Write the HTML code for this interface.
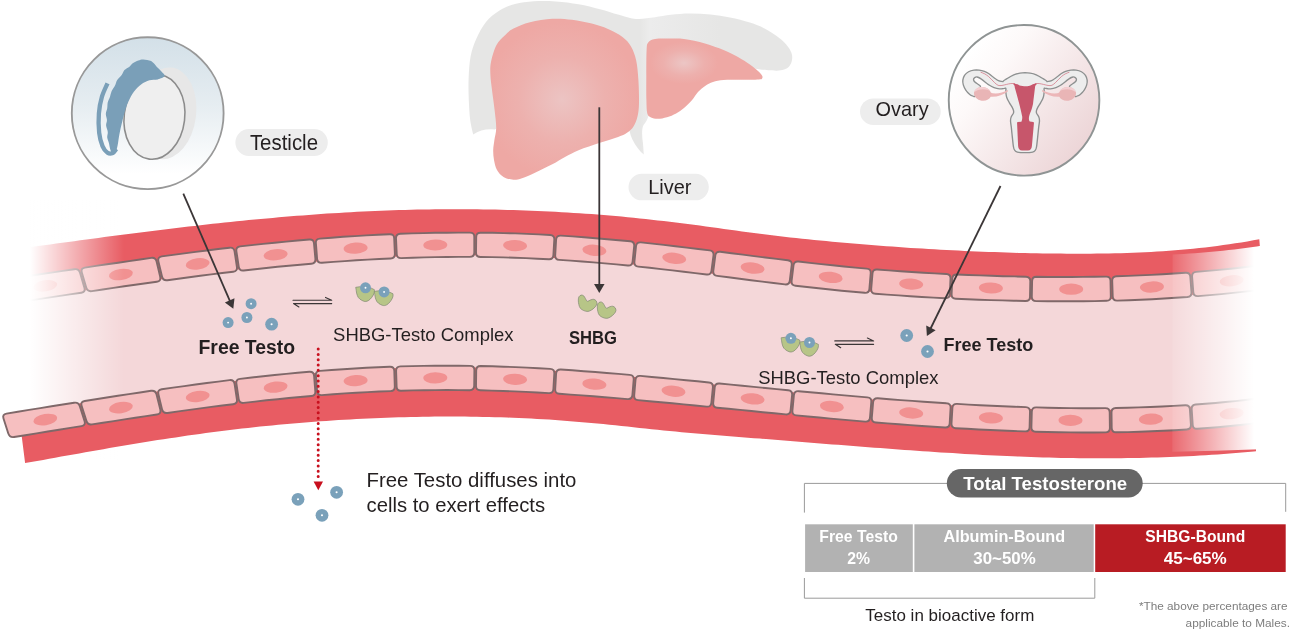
<!DOCTYPE html>
<html lang="en"><head><meta charset="utf-8"><title>Testosterone transport</title>
<style>html,body{margin:0;padding:0;background:#fff}body{width:1290px;height:630px;overflow:hidden}svg{display:block;will-change:transform}text{font-family:"Liberation Sans",sans-serif}</style></head>
<body>
<svg width="1290" height="630" viewBox="0 0 1290 630">
<defs>
<linearGradient id="fadeL" gradientUnits="userSpaceOnUse" x1="30" y1="0" x2="124" y2="0">
<stop offset="0" stop-color="#fff" stop-opacity="1"/><stop offset="1" stop-color="#fff" stop-opacity="0"/></linearGradient>
<linearGradient id="fadeR" gradientUnits="userSpaceOnUse" x1="1172.3" y1="0" x2="1254" y2="0">
<stop offset="0" stop-color="#fff" stop-opacity="0.08"/><stop offset="1" stop-color="#fff" stop-opacity="1"/></linearGradient>
</defs>
<defs>
<linearGradient id="gT" x1="0" y1="0" x2="0" y2="1"><stop offset="0" stop-color="#d3e0e8"/><stop offset="0.45" stop-color="#e6edf1"/><stop offset="0.9" stop-color="#ffffff"/></linearGradient>
<linearGradient id="gO" x1="0.12" y1="0.2" x2="0.92" y2="0.82"><stop offset="0" stop-color="#ffffff"/><stop offset="0.22" stop-color="#fdf9f9"/><stop offset="1" stop-color="#ecd4d6"/></linearGradient>
<radialGradient id="gL1" gradientUnits="userSpaceOnUse" cx="562" cy="100" r="78"><stop offset="0" stop-color="#ecc4c3"/><stop offset="0.55" stop-color="#edb1ae"/><stop offset="1" stop-color="#eea8a4"/></radialGradient>
<radialGradient id="gL2" gradientUnits="userSpaceOnUse" cx="684" cy="63" r="34" gradientTransform="translate(684 63) scale(1 0.62) translate(-684 -63)"><stop offset="0" stop-color="#ecc6c5"/><stop offset="0.6" stop-color="#edb0ad"/><stop offset="1" stop-color="#eea8a4"/></radialGradient>
<linearGradient id="gLg" gradientUnits="userSpaceOnUse" x1="640" y1="0" x2="720" y2="0"><stop offset="0" stop-color="#e6e6e5"/><stop offset="0.12" stop-color="#ececec"/><stop offset="1" stop-color="#e6e6e5"/></linearGradient>
<g id="dot"><circle r="5.5" fill="#7aa1ba"/><circle r="0.95" fill="#fff"/></g>
<g id="dotL"><circle r="6.4" fill="#7aa1ba"/><circle r="1.05" fill="#fff"/></g>
<path id="shbg" d="M2.94 0 C3.7 -0.15 4.63 0.16 5.32 0.71 C6.01 1.27 6.44 2.42 7.06 3.33 C7.69 4.25 8.15 5.95 9.05 6.19 C9.95 6.43 11.4 5.09 12.46 4.76 C13.52 4.43 14.51 4.05 15.4 4.21 C16.28 4.37 17.24 5 17.78 5.71 C18.32 6.43 18.77 7.51 18.65 8.49 C18.53 9.47 17.91 10.56 17.06 11.59 C16.22 12.62 14.81 13.89 13.57 14.68 C12.33 15.48 10.95 16.22 9.6 16.35 C8.25 16.48 6.73 16.01 5.48 15.48 C4.22 14.95 2.88 14.17 2.06 13.17 C1.24 12.18 0.9 10.9 0.56 9.52 C0.21 8.15 -0.03 6.24 0 4.92 C0.03 3.6 0.22 2.41 0.71 1.59 C1.2 0.77 2.17 0.15 2.94 0Z" fill="#b7c587" stroke="#7f8872" stroke-width="0.7" stroke-linejoin="round"/>
<path id="cup" d="M-9.8 -0.5 L-5.4 -1.1 L0 3 L5.8 0.4 L8.9 1.9 C8.9 2.28 9 3.48 8.9 4.2 C8.8 4.92 8.58 5.53 8.3 6.2 C8.02 6.87 7.58 7.58 7.2 8.2 C6.82 8.82 6.47 9.33 6 9.9 C5.53 10.47 4.95 11.1 4.4 11.6 C3.85 12.1 3.38 12.55 2.7 12.9 C2.02 13.25 1.05 13.62 0.3 13.7 C-0.45 13.78 -1.12 13.6 -1.8 13.4 C-2.48 13.2 -3.17 12.85 -3.8 12.5 C-4.43 12.15 -5.05 11.75 -5.6 11.3 C-6.15 10.85 -6.67 10.42 -7.1 9.8 C-7.53 9.18 -7.9 8.37 -8.2 7.6 C-8.5 6.83 -8.72 6.03 -8.9 5.2 C-9.08 4.37 -9.15 3.55 -9.3 2.6 C-9.45 1.65 -9.72 0.02 -9.8 -0.5Z" fill="#b7c587" stroke="#7f8872" stroke-width="0.7" stroke-linejoin="round"/>
</defs>
<path d="M-10 294 L-4 293.1 L2 292.2 L8.1 291.3 L14.1 290.4 L20.1 289.6 L26.1 288.7 L32.1 287.8 L38.1 286.9 L44.2 286 L50.2 285.1 L56.2 284.2 L62.2 283.3 L68.2 282.4 L74.3 281.5 L80.3 280.6 L86.3 279.7 L92.3 278.8 L98.3 277.9 L104.4 277 L110.4 276.1 L116.4 275.2 L122.4 274.3 L128.4 273.5 L134.4 272.6 L140.5 271.7 L146.5 270.9 L152.5 270 L158.5 269.2 L164.5 268.3 L170.6 267.5 L176.6 266.7 L182.6 265.9 L188.6 265.1 L194.6 264.3 L200.6 263.5 L206.7 262.7 L212.7 262 L218.7 261.2 L224.7 260.5 L230.7 259.8 L236.8 259.1 L242.8 258.4 L248.8 257.7 L254.8 257 L260.8 256.4 L266.9 255.7 L272.9 255.1 L278.9 254.5 L284.9 253.9 L290.9 253.3 L296.9 252.8 L303 252.2 L309 251.7 L315 251.2 L321 250.7 L327 250.2 L333.1 249.7 L339.1 249.3 L345.1 248.9 L351.1 248.5 L357.1 248.1 L363.1 247.7 L369.2 247.4 L375.2 247.1 L381.2 246.8 L387.2 246.5 L393.2 246.2 L399.3 246 L405.3 245.8 L411.3 245.6 L417.3 245.4 L423.3 245.2 L429.4 245.1 L435.4 245 L441.4 244.9 L447.4 244.8 L453.4 244.8 L459.4 244.7 L465.5 244.7 L471.5 244.7 L477.5 244.8 L483.5 244.8 L489.5 244.9 L495.6 245 L501.6 245.2 L507.6 245.3 L513.6 245.5 L519.6 245.7 L525.6 246 L531.7 246.2 L537.7 246.5 L543.7 246.8 L549.7 247.1 L555.7 247.5 L561.8 247.9 L567.8 248.3 L573.8 248.7 L579.8 249.1 L585.8 249.6 L591.9 250.1 L597.9 250.6 L603.9 251.1 L609.9 251.6 L615.9 252.2 L621.9 252.7 L628 253.3 L634 253.9 L640 254.6 L646 255.2 L652 255.8 L658.1 256.5 L664.1 257.2 L670.1 257.9 L676.1 258.6 L682.1 259.3 L688.1 260 L694.2 260.7 L700.2 261.5 L706.2 262.2 L712.2 263 L718.2 263.8 L724.3 264.5 L730.3 265.3 L736.3 266.1 L742.3 266.8 L748.3 267.6 L754.4 268.4 L760.4 269.1 L766.4 269.9 L772.4 270.6 L778.4 271.4 L784.4 272.1 L790.5 272.8 L796.5 273.6 L802.5 274.3 L808.5 275 L814.5 275.6 L820.6 276.3 L826.6 276.9 L832.6 277.6 L838.6 278.2 L844.6 278.8 L850.6 279.3 L856.7 279.9 L862.7 280.4 L868.7 280.9 L874.7 281.4 L880.7 281.9 L886.8 282.4 L892.8 282.8 L898.8 283.3 L904.8 283.7 L910.8 284.1 L916.9 284.5 L922.9 284.8 L928.9 285.2 L934.9 285.5 L940.9 285.9 L946.9 286.2 L953 286.5 L959 286.7 L965 287 L971 287.2 L977 287.5 L983.1 287.7 L989.1 287.9 L995.1 288.1 L1001.1 288.3 L1007.1 288.4 L1013.1 288.6 L1019.2 288.7 L1025.2 288.8 L1031.2 288.9 L1037.2 289 L1043.2 289.1 L1049.3 289.1 L1055.3 289.2 L1061.3 289.2 L1067.3 289.2 L1073.3 289.2 L1079.4 289.1 L1085.4 289.1 L1091.4 289 L1097.4 288.9 L1103.4 288.8 L1109.4 288.6 L1115.5 288.5 L1121.5 288.3 L1127.5 288.1 L1133.5 287.8 L1139.5 287.6 L1145.6 287.3 L1151.6 287 L1157.6 286.7 L1163.6 286.4 L1169.6 286 L1175.6 285.6 L1181.7 285.2 L1187.7 284.8 L1193.7 284.3 L1199.7 283.8 L1205.7 283.3 L1211.8 282.8 L1217.8 282.2 L1223.8 281.6 L1229.8 281 L1235.8 280.4 L1241.9 279.7 L1247.9 279.1 L1253.9 278.4 L1259.9 277.6 L1265.9 276.9 L1271.9 276.1 L1278 275.3 L1284 274.5 L1290 273.6 L1290 406.3 L1284 407.2 L1278 408.1 L1271.9 408.9 L1265.9 409.7 L1259.9 410.5 L1253.9 411.2 L1247.9 411.9 L1241.9 412.6 L1235.8 413.2 L1229.8 413.8 L1223.8 414.4 L1217.8 415 L1211.8 415.5 L1205.7 416 L1199.7 416.4 L1193.7 416.9 L1187.7 417.3 L1181.7 417.7 L1175.6 418 L1169.6 418.3 L1163.6 418.6 L1157.6 418.9 L1151.6 419.2 L1145.6 419.4 L1139.5 419.6 L1133.5 419.8 L1127.5 419.9 L1121.5 420 L1115.5 420.1 L1109.4 420.2 L1103.4 420.3 L1097.4 420.3 L1091.4 420.3 L1085.4 420.3 L1079.4 420.3 L1073.3 420.3 L1067.3 420.2 L1061.3 420.1 L1055.3 420 L1049.3 419.9 L1043.2 419.8 L1037.2 419.6 L1031.2 419.5 L1025.2 419.3 L1019.2 419.1 L1013.1 418.8 L1007.1 418.6 L1001.1 418.4 L995.1 418.1 L989.1 417.8 L983.1 417.5 L977 417.2 L971 416.9 L965 416.5 L959 416.2 L953 415.8 L946.9 415.5 L940.9 415.1 L934.9 414.7 L928.9 414.3 L922.9 413.9 L916.9 413.4 L910.8 413 L904.8 412.5 L898.8 412.1 L892.8 411.6 L886.8 411.2 L880.7 410.7 L874.7 410.2 L868.7 409.7 L862.7 409.2 L856.7 408.7 L850.6 408.1 L844.6 407.6 L838.6 407.1 L832.6 406.5 L826.6 406 L820.6 405.4 L814.5 404.9 L808.5 404.3 L802.5 403.8 L796.5 403.2 L790.5 402.6 L784.4 402 L778.4 401.5 L772.4 400.9 L766.4 400.3 L760.4 399.7 L754.4 399.1 L748.3 398.5 L742.3 397.9 L736.3 397.3 L730.3 396.8 L724.3 396.2 L718.2 395.6 L712.2 395 L706.2 394.4 L700.2 393.8 L694.2 393.2 L688.1 392.6 L682.1 392.1 L676.1 391.5 L670.1 390.9 L664.1 390.3 L658.1 389.7 L652 389.2 L646 388.6 L640 388.1 L634 387.5 L628 387 L621.9 386.5 L615.9 385.9 L609.9 385.4 L603.9 384.9 L597.9 384.4 L591.9 384 L585.8 383.5 L579.8 383 L573.8 382.6 L567.8 382.2 L561.8 381.8 L555.7 381.4 L549.7 381 L543.7 380.7 L537.7 380.3 L531.7 380 L525.6 379.7 L519.6 379.4 L513.6 379.2 L507.6 379 L501.6 378.8 L495.6 378.6 L489.5 378.4 L483.5 378.3 L477.5 378.1 L471.5 378 L465.5 378 L459.4 377.9 L453.4 377.9 L447.4 377.9 L441.4 377.9 L435.4 377.9 L429.4 378 L423.3 378.1 L417.3 378.2 L411.3 378.3 L405.3 378.5 L399.3 378.6 L393.2 378.8 L387.2 379.1 L381.2 379.3 L375.2 379.6 L369.2 379.9 L363.1 380.2 L357.1 380.5 L351.1 380.9 L345.1 381.2 L339.1 381.6 L333.1 382.1 L327 382.5 L321 383 L315 383.5 L309 384 L303 384.5 L296.9 385.1 L290.9 385.6 L284.9 386.2 L278.9 386.8 L272.9 387.4 L266.9 388.1 L260.8 388.7 L254.8 389.4 L248.8 390.1 L242.8 390.8 L236.8 391.5 L230.7 392.2 L224.7 393 L218.7 393.7 L212.7 394.5 L206.7 395.3 L200.6 396.1 L194.6 396.9 L188.6 397.7 L182.6 398.6 L176.6 399.4 L170.6 400.3 L164.5 401.1 L158.5 402 L152.5 402.9 L146.5 403.8 L140.5 404.7 L134.4 405.6 L128.4 406.5 L122.4 407.4 L116.4 408.3 L110.4 409.3 L104.4 410.2 L98.3 411.2 L92.3 412.1 L86.3 413.1 L80.3 414 L74.3 415 L68.2 415.9 L62.2 416.9 L56.2 417.9 L50.2 418.8 L44.2 419.8 L38.1 420.8 L32.1 421.8 L26.1 422.7 L20.1 423.7 L14.1 424.7 L8.1 425.6 L2 426.6 L-4 427.6 L-10 428.5Z" fill="#f4d7d9"/>
<path d="M-10 252.9 L-4 252 L2 251.2 L8 250.3 L14.1 249.5 L20.1 248.7 L26.1 247.8 L32.1 247 L38.1 246.1 L44.1 245.3 L50.2 244.5 L56.2 243.6 L62.2 242.8 L68.2 242 L74.2 241.2 L80.2 240.3 L86.3 239.5 L92.3 238.7 L98.3 237.9 L104.3 237.1 L110.3 236.3 L116.3 235.5 L122.3 234.7 L128.4 234 L134.4 233.2 L140.4 232.4 L146.4 231.7 L152.4 230.9 L158.4 230.2 L164.5 229.4 L170.5 228.7 L176.5 228 L182.5 227.3 L188.5 226.6 L194.5 225.9 L200.5 225.2 L206.6 224.5 L212.6 223.8 L218.6 223.2 L224.6 222.6 L230.6 221.9 L236.6 221.3 L242.7 220.7 L248.7 220.1 L254.7 219.5 L260.7 219 L266.7 218.4 L272.7 217.9 L278.8 217.3 L284.8 216.8 L290.8 216.3 L296.8 215.8 L302.8 215.4 L308.8 214.9 L314.8 214.5 L320.9 214 L326.9 213.6 L332.9 213.2 L338.9 212.9 L344.9 212.5 L350.9 212.2 L357 211.8 L363 211.5 L369 211.3 L375 211 L381 210.7 L387 210.5 L393 210.3 L399.1 210.1 L405.1 209.9 L411.1 209.8 L417.1 209.6 L423.1 209.5 L429.1 209.4 L435.2 209.3 L441.2 209.3 L447.2 209.2 L453.2 209.2 L459.2 209.2 L465.2 209.2 L471.3 209.3 L477.3 209.3 L483.3 209.4 L489.3 209.5 L495.3 209.6 L501.3 209.7 L507.3 209.9 L513.4 210 L519.4 210.2 L525.4 210.5 L531.4 210.7 L537.4 210.9 L543.4 211.2 L549.5 211.5 L555.5 211.8 L561.5 212.2 L567.5 212.5 L573.5 212.9 L579.5 213.3 L585.5 213.7 L591.6 214.1 L597.6 214.6 L603.6 215.1 L609.6 215.6 L615.6 216.1 L621.6 216.6 L627.7 217.2 L633.7 217.8 L639.7 218.4 L645.7 219 L651.7 219.7 L657.7 220.4 L663.8 221.1 L669.8 221.8 L675.8 222.5 L681.8 223.3 L687.8 224.1 L693.8 224.8 L699.8 225.6 L705.9 226.5 L711.9 227.3 L717.9 228.1 L723.9 228.9 L729.9 229.8 L735.9 230.6 L742 231.4 L748 232.2 L754 233 L760 233.8 L766 234.5 L772 235.3 L778 236 L784.1 236.7 L790.1 237.4 L796.1 238.1 L802.1 238.7 L808.1 239.3 L814.1 240 L820.2 240.6 L826.2 241.1 L832.2 241.7 L838.2 242.3 L844.2 242.8 L850.2 243.3 L856.3 243.8 L862.3 244.3 L868.3 244.8 L874.3 245.3 L880.3 245.7 L886.3 246.2 L892.3 246.6 L898.4 247 L904.4 247.5 L910.4 247.9 L916.4 248.2 L922.4 248.6 L928.4 249 L934.5 249.3 L940.5 249.7 L946.5 250 L952.5 250.3 L958.5 250.6 L964.5 250.9 L970.5 251.2 L976.6 251.4 L982.6 251.7 L988.6 251.9 L994.6 252.1 L1000.6 252.3 L1006.6 252.5 L1012.7 252.7 L1018.7 252.9 L1024.7 253 L1030.7 253.2 L1036.7 253.3 L1042.7 253.4 L1048.8 253.5 L1054.8 253.6 L1060.8 253.6 L1066.8 253.7 L1072.8 253.7 L1078.8 253.7 L1084.8 253.7 L1090.9 253.7 L1096.9 253.6 L1102.9 253.5 L1108.9 253.4 L1114.9 253.3 L1120.9 253.2 L1127 253 L1133 252.8 L1139 252.5 L1145 252.2 L1151 251.9 L1157 251.6 L1163 251.2 L1169.1 250.8 L1175.1 250.3 L1181.1 249.8 L1187.1 249.3 L1193.1 248.7 L1199.1 248.1 L1205.2 247.4 L1211.2 246.7 L1217.2 245.9 L1223.2 245.1 L1229.2 244.2 L1235.2 243.3 L1241.3 242.4 L1247.3 241.4 L1253.3 240.3 L1259.3 239.3 L1263.3 287.8 L1257.3 288.5 L1251.2 289.2 L1245.2 289.9 L1239.1 290.6 L1233.1 291.2 L1227 291.9 L1221 292.5 L1215 293 L1208.9 293.6 L1202.9 294.1 L1196.8 294.6 L1190.8 295.1 L1184.8 295.5 L1178.7 295.9 L1172.7 296.3 L1166.6 296.7 L1160.6 297.1 L1154.6 297.4 L1148.5 297.7 L1142.5 298 L1136.4 298.2 L1130.4 298.5 L1124.4 298.7 L1118.3 298.9 L1112.3 299.1 L1106.2 299.2 L1100.2 299.3 L1094.2 299.4 L1088.1 299.5 L1082.1 299.6 L1076.1 299.6 L1070 299.7 L1064 299.7 L1058 299.7 L1051.9 299.6 L1045.9 299.6 L1039.9 299.5 L1033.9 299.5 L1027.8 299.4 L1021.8 299.3 L1015.8 299.1 L1009.7 299 L1003.7 298.8 L997.7 298.7 L991.7 298.5 L985.6 298.3 L979.6 298.1 L973.6 297.8 L967.6 297.6 L961.5 297.4 L955.5 297.1 L949.5 296.8 L943.5 296.5 L937.4 296.2 L931.4 295.9 L925.4 295.5 L919.4 295.2 L913.3 294.8 L907.3 294.4 L901.3 294 L895.2 293.6 L889.2 293.1 L883.2 292.7 L877.2 292.2 L871.1 291.7 L865.1 291.2 L859.1 290.7 L853 290.1 L847 289.5 L841 289 L834.9 288.4 L828.9 287.7 L822.9 287.1 L816.9 286.5 L810.8 285.8 L804.8 285.1 L798.8 284.4 L792.8 283.7 L786.7 283 L780.7 282.2 L774.7 281.5 L768.7 280.8 L762.7 280 L756.7 279.2 L750.7 278.5 L744.7 277.7 L738.7 276.9 L732.7 276.2 L726.7 275.4 L720.7 274.7 L714.7 273.9 L708.7 273.1 L702.7 272.4 L696.7 271.6 L690.7 270.9 L684.7 270.2 L678.8 269.5 L672.8 268.7 L666.8 268.1 L660.8 267.4 L654.8 266.7 L648.9 266.1 L642.9 265.4 L636.9 264.8 L630.9 264.2 L625 263.6 L619 263 L613 262.4 L607.1 261.9 L601.1 261.4 L595.1 260.9 L589.2 260.4 L583.2 259.9 L577.2 259.5 L571.3 259 L565.3 258.6 L559.3 258.2 L553.4 257.9 L547.4 257.5 L541.5 257.2 L535.5 256.9 L529.5 256.6 L523.6 256.4 L517.6 256.2 L511.7 256 L505.7 255.8 L499.8 255.6 L493.8 255.5 L487.8 255.4 L481.9 255.3 L475.9 255.3 L470 255.2 L464 255.2 L458 255.2 L452.1 255.3 L446.1 255.3 L440.2 255.4 L434.2 255.5 L428.2 255.6 L422.3 255.8 L416.3 255.9 L410.3 256.1 L404.4 256.3 L398.4 256.5 L392.4 256.8 L386.5 257 L380.5 257.3 L374.5 257.6 L368.6 257.9 L362.6 258.3 L356.7 258.6 L350.7 259 L344.7 259.4 L338.8 259.8 L332.8 260.3 L326.8 260.7 L320.8 261.2 L314.9 261.7 L308.9 262.2 L302.9 262.7 L297 263.3 L291 263.9 L285 264.4 L279 265 L273.1 265.6 L267.1 266.3 L261.1 266.9 L255.2 267.5 L249.2 268.2 L243.2 268.9 L237.2 269.6 L231.2 270.3 L225.3 271 L219.3 271.7 L213.3 272.5 L207.3 273.2 L201.3 274 L195.4 274.8 L189.4 275.6 L183.4 276.4 L177.4 277.2 L171.4 278 L165.4 278.8 L159.5 279.6 L153.5 280.5 L147.5 281.3 L141.5 282.2 L135.5 283 L129.5 283.9 L123.5 284.8 L117.5 285.7 L111.5 286.5 L105.5 287.4 L99.5 288.3 L93.5 289.2 L87.5 290.1 L81.6 291 L75.6 291.9 L69.6 292.8 L63.6 293.7 L57.6 294.6 L51.6 295.5 L45.6 296.4 L39.6 297.3 L33.5 298.2 L27.5 299.1 L21.5 300 L15.5 300.8 L9.5 301.7 L3.5 302.6 L-2.5 303.5 L-8.5 304.4Z" fill="#e85c63"/>
<g fill="#f6bfc0" stroke="#7f6869" stroke-width="1.9" stroke-linejoin="round"><path d="M5.4 279.4 L16.8 277.8 L28.3 276 L39.8 274.3 L51.3 272.6 L62.8 270.9 L74.3 269.2 Q78.7 268.5 80 272.7 L84.4 287.8 Q85.7 292 81.3 292.7 L69.8 294.4 L58.3 296.1 L46.8 297.9 L35.3 299.6 L23.8 301.3 L12.2 303 Q7.8 303.6 6.6 299.4 L2.2 284.3 Q1 280.1 5.4 279.4 Z"/><path d="M84.9 267.6 L96 265.9 L107 264.3 L118.1 262.7 L129.1 261.1 L140.1 259.5 L151.2 257.9 Q155.6 257.3 156.6 261.6 L160.2 276.8 Q161.2 281.1 156.8 281.7 L146 283.2 L135.2 284.8 L124.3 286.3 L113.5 287.9 L102.7 289.5 L91.9 291.1 Q87.5 291.8 86.2 287.5 L81.8 272.5 Q80.5 268.2 84.9 267.6 Z"/><path d="M161.8 256.4 L173.1 254.9 L184.4 253.4 L195.7 251.9 L207 250.5 L218.2 249 L229.5 247.7 Q234 247.2 234.6 251.5 L236.9 266.9 Q237.5 271.2 233.2 271.7 L222.2 273 L211.2 274.4 L200.3 275.8 L189.3 277.2 L178.3 278.7 L167.4 280.2 Q163 280.8 162 276.5 L158.4 261.4 Q157.4 257.1 161.8 256.4 Z"/><path d="M240.2 246.4 L251.7 245.1 L263.2 243.9 L274.7 242.7 L286.2 241.6 L297.7 240.5 L309.3 239.5 Q313.7 239.1 314 243.5 L315.4 258.9 Q315.7 263.3 311.3 263.7 L300.1 264.7 L288.8 265.7 L277.5 266.8 L266.3 268 L255 269.2 L243.7 270.5 Q239.3 271 238.7 266.6 L236.4 251.3 Q235.8 246.9 240.2 246.4 Z"/><path d="M319.9 238.6 L331.5 237.7 L343.1 236.8 L354.8 236.1 L366.4 235.4 L378 234.8 L389.6 234.2 Q394.1 234 394.2 238.4 L394.9 253.9 Q395 258.3 390.7 258.5 L379.2 259 L367.8 259.6 L356.3 260.3 L344.8 261.1 L333.4 261.9 L321.9 262.8 Q317.5 263.1 317.1 258.8 L315.9 243.3 Q315.5 238.9 319.9 238.6 Z"/><path d="M400.3 233.8 L411.9 233.4 L423.5 233.1 L435.1 232.8 L446.7 232.7 L458.3 232.6 L469.9 232.6 Q474.4 232.6 474.3 237 L474.3 252.5 Q474.2 256.9 469.9 256.9 L458.4 256.9 L447 257 L435.5 257.1 L424.1 257.4 L412.6 257.7 L401.2 258.1 Q396.8 258.2 396.7 253.8 L396 238.4 Q395.9 234 400.3 233.8 Z"/><path d="M480.6 232.7 L492.2 232.8 L503.8 233.1 L515.4 233.4 L527 233.9 L538.6 234.4 L550.1 235 Q554.6 235.3 554.3 239.6 L553.4 255.1 Q553.1 259.5 548.8 259.3 L537.4 258.7 L526 258.1 L514.6 257.7 L503.2 257.4 L491.8 257.1 L480.4 257 Q476 256.9 476 252.5 L476.2 237 Q476.2 232.6 480.6 232.7 Z"/><path d="M560.8 235.6 L572.4 236.4 L584 237.3 L595.5 238.2 L607.1 239.2 L618.6 240.2 L630.2 241.3 Q634.6 241.8 634.2 246.2 L632.6 261.6 Q632.2 266 627.8 265.5 L616.4 264.4 L604.9 263.4 L593.5 262.4 L582.1 261.5 L570.7 260.6 L559.3 259.9 Q554.9 259.6 555.2 255.2 L556.1 239.8 Q556.4 235.4 560.8 235.6 Z"/><path d="M640.9 242.4 L652.3 243.6 L663.8 244.9 L675.3 246.2 L686.7 247.6 L698.2 249 L709.6 250.4 Q714 251 713.5 255.3 L711.5 270.7 Q711 275.1 706.6 274.5 L695.2 273.1 L683.8 271.7 L672.4 270.4 L661.1 269.1 L649.7 267.8 L638.3 266.6 Q634 266.1 634.4 261.8 L636 246.3 Q636.4 242 640.9 242.4 Z"/><path d="M720.2 251.8 L731.5 253.2 L742.8 254.6 L754.1 256.1 L765.3 257.5 L776.6 258.9 L787.8 260.3 Q792.2 260.8 791.7 265.2 L789.8 280.6 Q789.3 284.9 784.9 284.4 L773.6 283 L762.3 281.6 L751 280.2 L739.7 278.7 L728.4 277.3 L717.2 275.9 Q712.8 275.3 713.3 270.9 L715.3 255.6 Q715.8 251.2 720.2 251.8 Z"/><path d="M798.4 261.5 L809.8 262.9 L821.2 264.1 L832.5 265.3 L843.9 266.5 L855.3 267.6 L866.7 268.6 Q871.1 269 870.7 273.3 L869.4 288.8 Q869 293.2 864.6 292.8 L853.1 291.8 L841.6 290.7 L830.1 289.5 L818.5 288.3 L807 287 L795.5 285.7 Q791.1 285.2 791.6 280.8 L793.5 265.4 Q794 261 798.4 261.5 Z"/><path d="M877.2 269.5 L888.7 270.4 L900.3 271.2 L911.8 272 L923.3 272.7 L934.8 273.4 L946.4 274 Q950.7 274.2 950.5 278.6 L949.8 294.1 Q949.6 298.5 945.1 298.2 L933.5 297.6 L921.9 297 L910.2 296.2 L898.6 295.4 L886.9 294.6 L875.3 293.7 Q870.8 293.3 871.2 288.9 L872.5 273.5 Q872.9 269.1 877.2 269.5 Z"/><path d="M956.9 274.5 L968.4 275 L979.9 275.4 L991.4 275.8 L1003 276.2 L1014.5 276.4 L1026 276.7 Q1030.3 276.8 1030.3 281.2 L1030 296.7 Q1030 301.1 1025.5 301 L1013.9 300.7 L1002.3 300.4 L990.7 300.1 L979 299.7 L967.4 299.3 L955.8 298.7 Q951.4 298.5 951.6 294.1 L952.3 278.7 Q952.5 274.3 956.9 274.5 Z"/><path d="M1036.5 276.8 L1048.1 277 L1059.7 277 L1071.3 277 L1082.8 276.9 L1094.4 276.8 L1106 276.6 Q1110.3 276.4 1110.5 280.8 L1110.8 296.3 Q1111 300.7 1106.5 300.8 L1094.8 301.1 L1083.1 301.2 L1071.3 301.3 L1059.6 301.3 L1047.9 301.3 L1036.2 301.1 Q1031.8 301.1 1031.8 296.7 L1032.1 281.2 Q1032.1 276.8 1036.5 276.8 Z"/><path d="M1116.5 276.3 L1128 275.9 L1139.5 275.4 L1151.1 274.9 L1162.6 274.3 L1174.1 273.5 L1185.6 272.7 Q1190 272.4 1190.3 276.8 L1191.5 292.2 Q1191.8 296.6 1187.4 297 L1175.7 297.8 L1164 298.5 L1152.3 299.2 L1140.6 299.7 L1128.9 300.2 L1117.2 300.6 Q1112.8 300.7 1112.7 296.3 L1112.2 280.8 Q1112.1 276.4 1116.5 276.3 Z"/><path d="M1196.1 271.9 L1207.6 270.9 L1219.1 269.9 L1230.6 268.7 L1242.1 267.5 L1253.7 266.1 L1265.2 264.7 Q1269.5 264.2 1270.1 268.5 L1272.1 283.9 Q1272.7 288.3 1268.2 288.8 L1256.5 290.3 L1244.9 291.6 L1233.2 292.9 L1221.5 294.1 L1209.8 295.1 L1198.1 296.1 Q1193.6 296.5 1193.3 292.1 L1192.1 276.7 Q1191.8 272.3 1196.1 271.9 Z"/></g><g fill="#f19191"><ellipse cx="45.3" cy="285.8" rx="12" ry="5.6" transform="rotate(-8.5 45.3 285.8)"/><ellipse cx="120.9" cy="274.5" rx="12" ry="5.6" transform="rotate(-8.3 120.9 274.5)"/><ellipse cx="197.7" cy="263.9" rx="12" ry="5.6" transform="rotate(-7.4 197.7 263.9)"/><ellipse cx="275.6" cy="254.8" rx="12" ry="5.6" transform="rotate(-5.8 275.6 254.8)"/><ellipse cx="355.6" cy="248.2" rx="12" ry="5.6" transform="rotate(-3.6 355.6 248.2)"/><ellipse cx="435.3" cy="245" rx="12" ry="5.6" transform="rotate(-1 435.3 245)"/><ellipse cx="515.1" cy="245.6" rx="12" ry="5.6" transform="rotate(1.9 515.1 245.6)"/><ellipse cx="594.4" cy="250.3" rx="12" ry="5.6" transform="rotate(4.7 594.4 250.3)"/><ellipse cx="674.2" cy="258.3" rx="12" ry="5.6" transform="rotate(6.7 674.2 258.3)"/><ellipse cx="752.6" cy="268.1" rx="12" ry="5.6" transform="rotate(7.2 752.6 268.1)"/><ellipse cx="830.7" cy="277.4" rx="12" ry="5.6" transform="rotate(5.9 830.7 277.4)"/><ellipse cx="911.2" cy="284.1" rx="12" ry="5.6" transform="rotate(3.7 911.2 284.1)"/><ellipse cx="990.9" cy="288" rx="12" ry="5.6" transform="rotate(1.8 990.9 288)"/><ellipse cx="1071.2" cy="289.2" rx="12" ry="5.6" transform="rotate(-0.2 1071.2 289.2)"/><ellipse cx="1151.9" cy="287" rx="12" ry="5.6" transform="rotate(-2.9 1151.9 287)"/><ellipse cx="1231.7" cy="280.8" rx="12" ry="5.6" transform="rotate(-5.9 1231.7 280.8)"/></g>
<rect x="-2" y="200" width="130" height="260" fill="url(#fadeL)"/>
<path d="M1288.4 395.9 L1282.5 396.8 L1276.5 397.7 L1270.5 398.5 L1264.6 399.3 L1258.6 400.1 L1252.7 400.8 L1246.7 401.5 L1240.7 402.1 L1234.8 402.8 L1228.8 403.4 L1222.8 404 L1216.9 404.5 L1210.9 405 L1204.9 405.5 L1199 406 L1193 406.4 L1187 406.8 L1181.1 407.2 L1175.1 407.5 L1169.1 407.8 L1163.2 408.1 L1157.2 408.4 L1151.2 408.7 L1145.2 408.9 L1139.3 409.1 L1133.3 409.3 L1127.3 409.4 L1121.3 409.5 L1115.4 409.6 L1109.4 409.7 L1103.4 409.8 L1097.4 409.8 L1091.4 409.8 L1085.5 409.8 L1079.5 409.8 L1073.5 409.8 L1067.5 409.7 L1061.5 409.6 L1055.5 409.5 L1049.6 409.4 L1043.6 409.3 L1037.6 409.1 L1031.6 409 L1025.6 408.8 L1019.6 408.6 L1013.6 408.4 L1007.6 408.1 L1001.7 407.9 L995.7 407.6 L989.7 407.3 L983.7 407 L977.7 406.7 L971.7 406.4 L965.7 406.1 L959.7 405.7 L953.7 405.4 L947.7 405 L941.7 404.6 L935.7 404.2 L929.7 403.8 L923.7 403.4 L917.7 403 L911.7 402.5 L905.7 402.1 L899.7 401.6 L893.7 401.2 L887.7 400.7 L881.7 400.2 L875.7 399.7 L869.7 399.2 L863.7 398.7 L857.7 398.2 L851.7 397.7 L845.7 397.2 L839.7 396.6 L833.7 396.1 L827.7 395.5 L821.7 395 L815.7 394.4 L809.7 393.9 L803.6 393.3 L797.6 392.7 L791.6 392.2 L785.6 391.6 L779.6 391 L773.6 390.4 L767.6 389.9 L761.6 389.3 L755.5 388.7 L749.5 388.1 L743.5 387.5 L737.5 386.9 L731.5 386.3 L725.5 385.7 L719.5 385.1 L713.4 384.6 L707.4 384 L701.4 383.4 L695.4 382.8 L689.4 382.2 L683.3 381.6 L677.3 381 L671.3 380.5 L665.3 379.9 L659.2 379.3 L653.2 378.7 L647.2 378.2 L641.2 377.6 L635.1 377.1 L629.1 376.5 L623.1 376 L617 375.5 L611 375 L605 374.5 L598.9 374 L592.9 373.5 L586.9 373 L580.8 372.6 L574.8 372.1 L568.7 371.7 L562.7 371.3 L556.6 370.9 L550.6 370.6 L544.5 370.2 L538.5 369.9 L532.4 369.5 L526.4 369.2 L520.3 369 L514.3 368.7 L508.2 368.5 L502.2 368.3 L496.1 368.1 L490.1 367.9 L484 367.8 L478 367.6 L471.9 367.5 L465.8 367.5 L459.8 367.4 L453.7 367.4 L447.7 367.4 L441.6 367.4 L435.6 367.4 L429.5 367.5 L423.4 367.6 L417.4 367.7 L411.3 367.8 L405.3 368 L399.2 368.1 L393.2 368.3 L387.1 368.6 L381.1 368.8 L375 369.1 L368.9 369.4 L362.9 369.7 L356.8 370 L350.8 370.4 L344.7 370.7 L338.7 371.1 L332.6 371.6 L326.6 372 L320.5 372.5 L314.4 373 L308.4 373.5 L302.3 374 L296.3 374.6 L290.2 375.1 L284.2 375.7 L278.2 376.3 L272.1 377 L266.1 377.6 L260 378.3 L254 378.9 L247.9 379.6 L241.9 380.3 L235.8 381 L229.8 381.8 L223.8 382.5 L217.7 383.3 L211.7 384.1 L205.6 384.8 L199.6 385.6 L193.6 386.5 L187.5 387.3 L181.5 388.1 L175.5 389 L169.4 389.8 L163.4 390.7 L157.4 391.6 L151.3 392.4 L145.3 393.3 L139.3 394.2 L133.2 395.1 L127.2 396.1 L121.2 397 L115.2 397.9 L109.1 398.8 L103.1 399.8 L97.1 400.7 L91.1 401.7 L85 402.6 L79 403.6 L73 404.5 L67 405.5 L61 406.5 L54.9 407.4 L48.9 408.4 L42.9 409.4 L36.9 410.4 L30.9 411.3 L24.8 412.3 L18.8 413.3 L25.1 463.1 L31.1 462 L37.1 461 L43.2 459.9 L49.2 458.8 L55.2 457.7 L61.2 456.6 L67.3 455.6 L73.3 454.5 L79.3 453.4 L85.3 452.3 L91.4 451.3 L97.4 450.2 L103.4 449.2 L109.4 448.1 L115.4 447.1 L121.5 446.1 L127.5 445.1 L133.5 444 L139.5 443.1 L145.6 442.1 L151.6 441.1 L157.6 440.1 L163.6 439.2 L169.7 438.3 L175.7 437.4 L181.7 436.5 L187.7 435.6 L193.8 434.7 L199.8 433.9 L205.8 433.1 L211.8 432.3 L217.8 431.5 L223.9 430.7 L229.9 430 L235.9 429.3 L241.9 428.6 L248 427.9 L254 427.2 L260 426.6 L266 426 L272.1 425.4 L278.1 424.8 L284.1 424.3 L290.1 423.7 L296.2 423.2 L302.2 422.7 L308.2 422.2 L314.2 421.8 L320.2 421.3 L326.3 420.9 L332.3 420.5 L338.3 420.1 L344.3 419.7 L350.4 419.4 L356.4 419.1 L362.4 418.8 L368.4 418.5 L374.5 418.2 L380.5 418 L386.5 417.7 L392.5 417.5 L398.5 417.3 L404.6 417.2 L410.6 417 L416.6 416.9 L422.6 416.8 L428.7 416.7 L434.7 416.6 L440.7 416.6 L446.7 416.6 L452.8 416.6 L458.8 416.6 L464.8 416.6 L470.8 416.7 L476.9 416.8 L482.9 416.9 L488.9 417 L494.9 417.2 L500.9 417.3 L507 417.5 L513 417.8 L519 418 L525 418.3 L531.1 418.6 L537.1 418.9 L543.1 419.3 L549.1 419.6 L555.2 420 L561.2 420.5 L567.2 420.9 L573.2 421.4 L579.2 421.9 L585.3 422.4 L591.3 422.9 L597.3 423.5 L603.3 424.1 L609.4 424.7 L615.4 425.3 L621.4 426 L627.4 426.6 L633.5 427.3 L639.5 427.9 L645.5 428.6 L651.5 429.2 L657.6 429.8 L663.6 430.4 L669.6 431.1 L675.6 431.6 L681.6 432.2 L687.7 432.8 L693.7 433.3 L699.7 433.8 L705.7 434.3 L711.8 434.8 L717.8 435.3 L723.8 435.8 L729.8 436.3 L735.9 436.8 L741.9 437.2 L747.9 437.7 L753.9 438.2 L759.9 438.6 L766 439.1 L772 439.6 L778 440 L784 440.5 L790.1 441 L796.1 441.5 L802.1 441.9 L808.1 442.4 L814.2 442.9 L820.2 443.4 L826.2 443.9 L832.2 444.4 L838.2 444.8 L844.3 445.3 L850.3 445.8 L856.3 446.3 L862.3 446.7 L868.4 447.2 L874.4 447.7 L880.4 448.1 L886.4 448.6 L892.5 449 L898.5 449.5 L904.5 449.9 L910.5 450.3 L916.6 450.8 L922.6 451.2 L928.6 451.6 L934.6 452 L940.6 452.4 L946.7 452.8 L952.7 453.1 L958.7 453.5 L964.7 453.9 L970.8 454.2 L976.8 454.6 L982.8 454.9 L988.8 455.2 L994.9 455.5 L1000.9 455.8 L1006.9 456 L1012.9 456.3 L1019 456.6 L1025 456.8 L1031 457 L1037 457.2 L1043 457.4 L1049.1 457.6 L1055.1 457.7 L1061.1 457.9 L1067.1 458 L1073.2 458.1 L1079.2 458.2 L1085.2 458.2 L1091.2 458.3 L1097.3 458.3 L1103.3 458.3 L1109.3 458.3 L1115.3 458.3 L1121.3 458.2 L1127.4 458.1 L1133.4 458 L1139.4 457.9 L1145.4 457.8 L1151.5 457.6 L1157.5 457.4 L1163.5 457.2 L1169.5 457 L1175.6 456.8 L1181.6 456.5 L1187.6 456.2 L1193.6 455.9 L1199.6 455.5 L1205.7 455.2 L1211.7 454.8 L1217.7 454.4 L1223.7 453.9 L1229.8 453.5 L1235.8 453 L1241.8 452.5 L1247.8 452 L1253.9 451.4 L1259.9 450.8 L1265.9 450.2 L1271.9 449.6 L1278 448.9 L1284 448.3 L1290 447.6Z" fill="#e85c63"/>
<g fill="#f6bfc0" stroke="#7f6869" stroke-width="1.9" stroke-linejoin="round"><path d="M6.5 413.6 L17.8 411.8 L29 409.9 L40.3 408.1 L51.6 406.3 L62.8 404.5 L74.1 402.7 Q78.5 402 79.8 406.2 L84.6 421.2 Q85.9 425.4 81.5 426.1 L70.3 427.9 L59 429.7 L47.8 431.5 L36.6 433.4 L25.3 435.2 L14.1 437 Q9.7 437.7 8.3 433.5 L3.5 418.5 Q2.1 414.3 6.5 413.6 Z"/><path d="M84.7 401 L95.8 399.3 L106.8 397.5 L117.9 395.8 L128.9 394.1 L140 392.5 L151.1 390.8 Q155.5 390.2 156.5 394.4 L160.3 409.6 Q161.3 413.9 156.9 414.5 L146.1 416.1 L135.3 417.7 L124.5 419.4 L113.7 421.1 L102.9 422.7 L92.1 424.4 Q87.7 425.1 86.4 420.9 L81.6 405.9 Q80.3 401.7 84.7 401 Z"/><path d="M161.7 389.3 L173 387.6 L184.3 386.1 L195.6 384.5 L206.9 383 L218.2 381.6 L229.5 380.1 Q233.9 379.6 234.6 384 L236.9 399.3 Q237.6 403.6 233.2 404.2 L222.3 405.5 L211.3 406.9 L200.4 408.4 L189.4 409.9 L178.4 411.4 L167.5 413 Q163.1 413.6 162 409.3 L158.4 394.2 Q157.3 389.9 161.7 389.3 Z"/><path d="M240.1 378.9 L251.7 377.5 L263.2 376.2 L274.7 375 L286.2 373.9 L297.7 372.8 L309.3 371.8 Q313.7 371.4 314.1 375.8 L315.3 391.2 Q315.7 395.6 311.3 396 L300.1 397 L288.8 398 L277.6 399.2 L266.3 400.3 L255 401.6 L243.7 402.9 Q239.4 403.4 238.7 399.1 L236.4 383.7 Q235.7 379.4 240.1 378.9 Z"/><path d="M319.9 370.9 L331.6 370 L343.2 369.2 L354.8 368.5 L366.4 367.8 L378.1 367.3 L389.7 366.8 Q394.1 366.6 394.3 371 L394.8 386.5 Q395 390.9 390.6 391.1 L379.1 391.5 L367.7 392.1 L356.2 392.7 L344.8 393.4 L333.3 394.2 L321.9 395.1 Q317.5 395.5 317.1 391.1 L315.9 375.6 Q315.5 371.2 319.9 370.9 Z"/><path d="M400.4 366.4 L412 366.1 L423.6 365.9 L435.2 365.8 L446.8 365.7 L458.4 365.8 L470.1 365.9 Q474.5 365.9 474.4 370.3 L474.2 385.8 Q474.1 390.2 469.7 390.2 L458.3 390.1 L446.9 390 L435.4 390.1 L424 390.2 L412.6 390.4 L401.1 390.7 Q396.7 390.9 396.6 386.5 L396.1 371 Q396 366.6 400.4 366.4 Z"/><path d="M480.7 366 L492.3 366.3 L503.9 366.7 L515.5 367.1 L527 367.6 L538.6 368.2 L550.2 368.9 Q554.6 369.1 554.3 373.5 L553.4 389 Q553.1 393.4 548.7 393.1 L537.3 392.5 L525.9 391.9 L514.5 391.4 L503.1 391 L491.7 390.6 L480.3 390.3 Q475.9 390.3 476 385.9 L476.2 370.4 Q476.3 366 480.7 366 Z"/><path d="M560.8 369.5 L572.3 370.3 L583.8 371.2 L595.3 372 L606.8 373 L618.3 373.9 L629.7 374.9 Q634.1 375.3 633.7 379.7 L632.4 395.2 Q632 399.5 627.6 399.1 L616.2 398.1 L604.8 397.2 L593.4 396.3 L582 395.4 L570.6 394.6 L559.3 393.8 Q554.9 393.5 555.2 389.1 L556.1 373.6 Q556.4 369.3 560.8 369.5 Z"/><path d="M640.4 375.9 L651.8 377 L663.2 378 L674.7 379.1 L686.1 380.2 L697.5 381.3 L708.9 382.5 Q713.3 382.9 712.9 387.3 L711.4 402.7 Q711 407.1 706.6 406.6 L695.2 405.5 L683.7 404.4 L672.3 403.3 L660.9 402.2 L649.5 401.2 L638.1 400.1 Q633.8 399.7 634.2 395.3 L635.5 379.9 Q635.9 375.5 640.4 375.9 Z"/><path d="M719.5 383.5 L731 384.6 L742.4 385.7 L753.8 386.9 L765.3 388 L776.7 389.1 L788.1 390.2 Q792.5 390.6 792.1 395 L790.6 410.4 Q790.2 414.8 785.8 414.4 L774.3 413.3 L762.9 412.2 L751.5 411 L740 409.9 L728.6 408.8 L717.2 407.7 Q712.8 407.2 713.2 402.9 L714.7 387.4 Q715.1 383.1 719.5 383.5 Z"/><path d="M798.7 391.2 L810.1 392.3 L821.6 393.3 L833 394.4 L844.4 395.4 L855.8 396.4 L867.3 397.4 Q871.7 397.7 871.3 402.1 L870 417.6 Q869.6 421.9 865.2 421.6 L853.8 420.6 L842.3 419.6 L830.8 418.6 L819.3 417.5 L807.9 416.5 L796.4 415.4 Q792 415 792.4 410.6 L793.9 395.2 Q794.3 390.8 798.7 391.2 Z"/><path d="M877.8 398.2 L889.3 399.2 L900.7 400.1 L912.2 400.9 L923.6 401.7 L935.1 402.5 L946.5 403.3 Q950.9 403.5 950.6 407.9 L949.7 423.4 Q949.4 427.8 945 427.5 L933.5 426.8 L921.9 426 L910.4 425.1 L898.9 424.3 L887.4 423.4 L875.9 422.5 Q871.4 422.1 871.8 417.7 L873.1 402.3 Q873.5 397.9 877.8 398.2 Z"/><path d="M957.1 403.9 L968.5 404.6 L980 405.2 L991.4 405.8 L1002.9 406.3 L1014.3 406.7 L1025.8 407.1 Q1030.2 407.3 1030 411.7 L1029.6 427.2 Q1029.4 431.6 1025 431.4 L1013.4 431 L1001.9 430.5 L990.3 430 L978.7 429.5 L967.2 428.8 L955.6 428.2 Q951.2 427.9 951.5 423.5 L952.4 408 Q952.7 403.6 957.1 403.9 Z"/><path d="M1036.3 407.4 L1047.8 407.7 L1059.3 408 L1070.8 408.1 L1082.3 408.2 L1093.8 408.2 L1105.3 408.1 Q1109.7 408.1 1109.7 412.5 L1109.9 428 Q1109.9 432.4 1105.5 432.4 L1093.9 432.5 L1082.2 432.5 L1070.6 432.4 L1058.9 432.3 L1047.3 432 L1035.7 431.7 Q1031.2 431.6 1031.4 427.2 L1031.8 411.7 Q1032 407.3 1036.3 407.4 Z"/><path d="M1115.8 408 L1127.4 407.8 L1139 407.4 L1150.5 407 L1162.1 406.5 L1173.7 405.9 L1185.2 405.3 Q1189.6 405 1189.9 409.4 L1190.9 424.8 Q1191.2 429.2 1186.8 429.5 L1175 430.2 L1163.2 430.8 L1151.5 431.3 L1139.7 431.7 L1128 432.1 L1116.2 432.3 Q1111.8 432.3 1111.7 427.9 L1111.5 412.5 Q1111.4 408.1 1115.8 408 Z"/><path d="M1195.7 404.5 L1205.6 403.8 L1215.6 403 L1225.5 402 L1235.4 401.1 L1245.3 400 L1255.2 398.8 L1265.1 397.6 Q1269.5 397 1270.1 401.3 L1272.1 416.7 Q1272.7 421.1 1268.3 421.7 L1258.2 422.9 L1248 424.1 L1237.9 425.2 L1227.8 426.2 L1217.7 427.2 L1207.6 428 L1197.5 428.8 Q1193 429.1 1192.7 424.7 L1191.7 409.2 Q1191.4 404.9 1195.7 404.5 Z"/></g><g fill="#f19191"><ellipse cx="45.3" cy="419.6" rx="12" ry="5.6" transform="rotate(-9.2 45.3 419.6)"/><ellipse cx="120.9" cy="407.6" rx="12" ry="5.6" transform="rotate(-8.7 120.9 407.6)"/><ellipse cx="197.7" cy="396.5" rx="12" ry="5.6" transform="rotate(-7.7 197.7 396.5)"/><ellipse cx="275.6" cy="387.1" rx="12" ry="5.6" transform="rotate(-5.9 275.6 387.1)"/><ellipse cx="355.6" cy="380.6" rx="12" ry="5.6" transform="rotate(-3.4 355.6 380.6)"/><ellipse cx="435.3" cy="377.9" rx="12" ry="5.6" transform="rotate(-0.5 435.3 377.9)"/><ellipse cx="515.1" cy="379.3" rx="12" ry="5.6" transform="rotate(2.4 515.1 379.3)"/><ellipse cx="594.4" cy="384.2" rx="12" ry="5.6" transform="rotate(4.5 594.4 384.2)"/><ellipse cx="673.5" cy="391.2" rx="12" ry="5.6" transform="rotate(5.5 673.5 391.2)"/><ellipse cx="752.6" cy="398.9" rx="12" ry="5.6" transform="rotate(5.6 752.6 398.9)"/><ellipse cx="831.9" cy="406.5" rx="12" ry="5.6" transform="rotate(5.2 831.9 406.5)"/><ellipse cx="911.2" cy="413" rx="12" ry="5.6" transform="rotate(4.2 911.2 413)"/><ellipse cx="990.9" cy="417.9" rx="12" ry="5.6" transform="rotate(2.7 990.9 417.9)"/><ellipse cx="1070.5" cy="420.3" rx="12" ry="5.6" transform="rotate(0.6 1070.5 420.3)"/><ellipse cx="1150.9" cy="419.2" rx="12" ry="5.6" transform="rotate(-2.2 1150.9 419.2)"/><ellipse cx="1231.7" cy="413.6" rx="12" ry="5.6" transform="rotate(-5.7 1231.7 413.6)"/></g>
<path d="M1172.6 254.5 L1178.2 254.2 L1183.8 253.9 L1189.4 253.6 L1195 253.2 L1200.6 252.8 L1206.2 252.3 L1211.8 251.8 L1217.4 251.3 L1223 250.7 L1228.6 250.1 L1234.3 249.4 L1239.9 248.7 L1245.5 247.9 L1251.1 247.2 L1256.7 246.4 L1262.4 245.5 L1268 244.6 L1273.6 243.7 L1279.2 242.7 L1284.9 241.7 L1290.5 240.7 L1296.1 239.6 L1301.8 238.5 L1300 448.2 L1260 449.3 L1215 450.7 L1172.3 451.8Z" fill="url(#fadeR)"/>
<rect x="1256" y="440" width="40" height="30" fill="#fff"/>
<circle cx="147.7" cy="113.2" r="75.9" fill="url(#gT)" stroke="#989898" stroke-width="1.85"/><g transform="translate(60 25) scale(0.27778)"><ellipse cx="382" cy="318" rx="108" ry="166" transform="rotate(7 382 318)" fill="#e7e7e7"/><ellipse cx="340" cy="331" rx="109" ry="153" transform="rotate(7 340 331)" fill="#efefef" stroke="#8c8c8c" stroke-width="5.6"/><path d="M300 124 C307.67 124.33 320 125.67 328 130 C336 134.33 341.67 143.67 348 150 C354.33 156.33 361.17 162.33 366 168 C370.83 173.67 379.33 179.33 377 184 C374.67 188.67 361.17 193.5 352 196 C342.83 198.5 332 196 322 199 C312 202 301.33 207.17 292 214 C282.67 220.83 273.67 229.67 266 240 C258.33 250.33 251.5 264 246 276 C240.5 288 236.83 299.33 233 312 C229.17 324.67 226.17 338.67 223 352 C219.83 365.33 216.5 379 214 392 C211.5 405 210 420 208 430 C206 440 205 446 202 452 C199 458 193.5 466.67 190 466 C186.5 465.33 183.33 454.83 181 448 C178.67 441.17 177.83 432.17 176 425 C174.17 417.83 170.67 411.67 170 405 C169.33 398.33 172.67 392.17 172 385 C171.33 377.83 166.5 369.17 166 362 C165.5 354.83 169.17 349 169 342 C168.83 335 164.83 327 165 320 C165.17 313 168.83 307 170 300 C171.17 293 170.33 285 172 278 C173.67 271 177.67 264.67 180 258 C182.33 251.33 183 244.67 186 238 C189 231.33 194.67 224.67 198 218 C201.33 211.33 202 204.33 206 198 C210 191.67 217.67 186 222 180 C226.33 174 227.33 167 232 162 C236.67 157 245 154 250 150 C255 146 256.67 141.67 262 138 C267.33 134.33 275.67 130.33 282 128 C288.33 125.67 292.33 123.67 300 124Z" fill="#7a9fb8"/><path d="M171 210 C167.67 218 156.17 240 151 258 C145.83 276 141.67 296.33 140 318 C138.33 339.67 138.83 368.33 141 388 C143.17 407.67 148 424 153 436 C158 448 164.83 455.83 171 460 C177.17 464.17 184.67 463.33 190 461 C195.33 458.67 200.83 448.5 203 446" fill="none" stroke="#7a9fb8" stroke-width="15.5" stroke-linecap="butt"/></g>
<path d="M473.2 134.4 C472.7 132 470.93 125.73 470.2 120 C469.47 114.27 469.07 106.83 468.8 100 C468.53 93.17 468.32 86.17 468.6 79 C468.88 71.83 469.27 63.58 470.5 57 C471.73 50.42 473.42 45.33 476 39.5 C478.58 33.67 482.08 26.83 486 22 C489.92 17.17 494.67 13.5 499.5 10.5 C504.33 7.5 509.28 5.55 515 4 C520.72 2.45 526.97 1.63 533.8 1.2 C540.63 0.77 548.53 0.9 556 1.4 C563.47 1.9 571.27 2.9 578.6 4.2 C585.93 5.5 593.43 7.47 600 9.2 C606.57 10.93 613 13.15 618 14.6 C623 16.05 626.47 17.17 630 17.9 C633.53 18.63 635.03 19.12 639.2 19 C643.37 18.88 649.72 17.9 655 17.2 C660.28 16.5 665.07 15.4 670.9 14.8 C676.73 14.2 683.42 13.63 690 13.6 C696.58 13.57 703.73 13.93 710.4 14.6 C717.07 15.27 723.42 16.27 730 17.6 C736.58 18.93 744.07 20.75 749.9 22.6 C755.73 24.45 760.6 26.5 765 28.7 C769.4 30.9 772.8 33.22 776.3 35.8 C779.8 38.38 783.48 41.38 786 44.2 C788.52 47.02 790.4 50.07 791.4 52.7 C792.4 55.33 792.32 57.8 792 60 C791.68 62.2 790.83 64.3 789.5 65.9 C788.17 67.5 786.2 68.8 784 69.6 C781.8 70.4 779.97 70.67 776.3 70.7 C772.63 70.73 764.38 69.95 762 69.8 L700 60 L648.5 115 C648 119.5 645.5 122.5 643.6 125 C641.6 128.5 641.8 136 643 143.5 L643.8 154.6 C640 151.6 636 146.6 632.4 139.6 C631.2 137 630.2 134 629.5 131 L560 100 L494.5 129.5 C487 128.5 479 130.5 473.2 134.4Z" fill="url(#gLg)"/><path d="M491 62 C492.02 57 494.17 49.47 496.5 45 C498.83 40.53 502.17 37.93 505 35.2 C507.83 32.47 509.33 30.75 513.5 28.6 C517.67 26.45 523.53 23.93 530 22.3 C536.47 20.67 545.3 19.22 552.3 18.8 C559.3 18.38 565.42 19 572 19.8 C578.58 20.6 585.8 22.07 591.8 23.6 C597.8 25.13 602.88 26.77 608 29 C613.12 31.23 618.67 34.08 622.5 37 C626.33 39.92 628.72 42.57 631 46.5 C633.28 50.43 634.97 55.02 636.2 60.6 C637.43 66.18 637.93 72.93 638.4 80 C638.87 87.07 639.13 97 639 103 C638.87 109 638.52 112.08 637.6 116 C636.68 119.92 635.27 123.7 633.5 126.5 C631.73 129.3 629.57 131.05 627 132.8 C624.43 134.55 622.6 135.33 618.1 137 C613.6 138.67 606.58 140.6 600 142.8 C593.42 145 584.43 147.83 578.6 150.2 C572.77 152.57 569.38 154.65 565 157 C560.62 159.35 557.3 161.67 552.3 164.3 C547.3 166.93 540.05 170.48 535 172.8 C529.95 175.12 525.62 177.03 522 178.2 C518.38 179.37 516.38 180 513.3 179.8 C510.22 179.6 506.22 178.63 503.5 177 C500.78 175.37 498.58 172.83 497 170 C495.42 167.17 494.63 163.33 494 160 C493.37 156.67 493.13 153.33 493.2 150 C493.27 146.67 493.9 143.67 494.4 140 C494.9 136.33 496.17 133 496.2 128 C496.23 123 495.3 116.33 494.6 110 C493.9 103.67 492.7 95.83 492 90 C491.3 84.17 490.57 79.67 490.4 75 C490.23 70.33 489.98 67 491 62Z" fill="url(#gL1)"/><path d="M646.6 50 C646.92 44.57 646.8 44.23 648.2 42.4 C649.6 40.57 651.37 39.63 655 39 C658.63 38.37 665.17 38.6 670 38.6 C674.83 38.6 678.17 38.2 684 39 C689.83 39.8 698.4 41.57 705 43.4 C711.6 45.23 718.1 47.73 723.6 50 C729.1 52.27 733.62 54.57 738 57 C742.38 59.43 746.57 62.27 749.9 64.6 C753.23 66.93 755.98 69.2 758 71 C760.02 72.8 761.3 74.2 762 75.4 C762.7 76.6 762.7 77.53 762.2 78.2 C761.7 78.87 762.7 79.15 759 79.4 C755.3 79.65 745.9 79.6 740 79.7 C734.1 79.8 728.1 79.62 723.6 80 C719.1 80.38 716.08 81.02 713 82 C709.92 82.98 707.6 84.23 705.1 85.9 C702.6 87.57 700.2 89.62 698 92 C695.8 94.38 694.23 97.53 691.9 100.2 C689.57 102.87 686.63 105.8 684 108 C681.37 110.2 678.93 111.87 676.1 113.4 C673.27 114.93 670.07 116.3 667 117.2 C663.93 118.1 660.37 118.77 657.7 118.8 C655.03 118.83 652.73 118.28 651 117.4 C649.27 116.52 648.07 116.4 647.3 113.5 C646.53 110.6 646.57 106.42 646.4 100 C646.23 93.58 646.27 83.33 646.3 75 C646.33 66.67 646.28 55.43 646.6 50Z" fill="url(#gL2)"/>
<circle cx="1024.05" cy="100.3" r="75.3" fill="url(#gO)" stroke="#8f9494" stroke-width="1.9"/><path d="M690 276 C675 272.67 628.33 268.33 600 256 C571.67 243.67 545 220.17 520 202 C495 183.83 473.33 162.17 450 147 C426.67 131.83 405 120.17 380 111 C355 101.83 326.67 95.17 300 92 C273.33 88.83 246.67 88 220 92 C193.33 96 163.33 103 140 116 C116.67 129 94.17 149.33 80 170 C65.83 190.67 58 216.67 55 240 C52 263.33 54.5 285 62 310 C69.5 335 83.67 365.83 100 390 C116.33 414.17 139.17 438.83 160 455 C180.83 471.17 214.17 481.67 225 487 L320 400 L310 335 C301.67 329.17 275.83 312.17 260 300 C244.17 287.83 224.5 274.5 215 262 C205.5 249.5 201.17 237 203 225 C204.83 213 214.83 197.83 226 190 C237.17 182.17 252.67 175.5 270 178 C287.33 180.5 308.33 191.67 330 205 C351.67 218.33 376.67 240.5 400 258 C423.33 275.5 446.67 295 470 310 C493.33 325 515 338.67 540 348 C565 357.33 593.33 364.33 620 366 C646.67 367.67 678.67 361.83 700 358 C721.33 354.17 740 345.5 748 343 L830 330 L830 240Z" transform="translate(960 65) scale(0.06353)" fill="#ededed" stroke="#8d9090" stroke-width="42.5" stroke-linejoin="round"/><path d="M690 276 C675 272.67 628.33 268.33 600 256 C571.67 243.67 545 220.17 520 202 C495 183.83 473.33 162.17 450 147 C426.67 131.83 405 120.17 380 111 C355 101.83 326.67 95.17 300 92 C273.33 88.83 246.67 88 220 92 C193.33 96 163.33 103 140 116 C116.67 129 94.17 149.33 80 170 C65.83 190.67 58 216.67 55 240 C52 263.33 54.5 285 62 310 C69.5 335 83.67 365.83 100 390 C116.33 414.17 139.17 438.83 160 455 C180.83 471.17 214.17 481.67 225 487 L320 400 L310 335 C301.67 329.17 275.83 312.17 260 300 C244.17 287.83 224.5 274.5 215 262 C205.5 249.5 201.17 237 203 225 C204.83 213 214.83 197.83 226 190 C237.17 182.17 252.67 175.5 270 178 C287.33 180.5 308.33 191.67 330 205 C351.67 218.33 376.67 240.5 400 258 C423.33 275.5 446.67 295 470 310 C493.33 325 515 338.67 540 348 C565 357.33 593.33 364.33 620 366 C646.67 367.67 678.67 361.83 700 358 C721.33 354.17 740 345.5 748 343 L830 330 L830 240Z" transform="translate(1090 65) scale(-0.06353 0.06353)" fill="#ededed" stroke="#8d9090" stroke-width="42.5" stroke-linejoin="round"/><path d="M1003.2 82.6 C1003.47 81.07 1006.2 80 1008 78.8 C1009.8 77.6 1012 76.23 1014 75.4 C1016 74.57 1018.17 74.13 1020 73.8 C1021.83 73.47 1023.33 73.4 1025 73.4 C1026.67 73.4 1028.17 73.47 1030 73.8 C1031.83 74.13 1034 74.57 1036 75.4 C1038 76.23 1040.2 77.6 1042 78.8 C1043.8 80 1046.53 81.07 1046.8 82.6 C1047.07 84.13 1044.15 86.43 1043.6 88 C1043.05 89.57 1043.67 90.45 1043.5 92 C1043.33 93.55 1043.18 95.55 1042.6 97.3 C1042.02 99.05 1040.88 100.92 1040 102.5 C1039.12 104.08 1038 105.47 1037.3 106.8 C1036.6 108.13 1036.02 109.37 1035.8 110.5 C1035.58 111.63 1035.6 112.48 1036 113.6 C1036.4 114.72 1037.73 115.97 1038.2 117.2 C1038.67 118.43 1038.83 119.32 1038.8 121 C1038.77 122.68 1038.3 124.63 1038 127.3 C1037.7 129.97 1037.35 133.82 1037 137 C1036.65 140.18 1036.27 144.27 1035.9 146.4 C1035.53 148.53 1035.37 148.97 1034.8 149.8 C1034.23 150.63 1034.13 151.05 1032.5 151.4 C1030.87 151.75 1027.5 151.9 1025 151.9 C1022.5 151.9 1019.13 151.75 1017.5 151.4 C1015.87 151.05 1015.77 150.63 1015.2 149.8 C1014.63 148.97 1014.47 148.53 1014.1 146.4 C1013.73 144.27 1013.35 140.18 1013 137 C1012.65 133.82 1012.3 129.97 1012 127.3 C1011.7 124.63 1011.23 122.68 1011.2 121 C1011.17 119.32 1011.33 118.43 1011.8 117.2 C1012.27 115.97 1013.6 114.72 1014 113.6 C1014.4 112.48 1014.42 111.63 1014.2 110.5 C1013.98 109.37 1013.4 108.13 1012.7 106.8 C1012 105.47 1010.88 104.08 1010 102.5 C1009.12 100.92 1007.98 99.05 1007.4 97.3 C1006.82 95.55 1006.67 93.55 1006.5 92 C1006.33 90.45 1006.95 89.57 1006.4 88 C1005.85 86.43 1002.93 84.13 1003.2 82.6Z" fill="#ededed" stroke="#8d9090" stroke-width="2.7" stroke-linejoin="round"/><path d="M690 276 C675 272.67 628.33 268.33 600 256 C571.67 243.67 545 220.17 520 202 C495 183.83 473.33 162.17 450 147 C426.67 131.83 405 120.17 380 111 C355 101.83 326.67 95.17 300 92 C273.33 88.83 246.67 88 220 92 C193.33 96 163.33 103 140 116 C116.67 129 94.17 149.33 80 170 C65.83 190.67 58 216.67 55 240 C52 263.33 54.5 285 62 310 C69.5 335 83.67 365.83 100 390 C116.33 414.17 139.17 438.83 160 455 C180.83 471.17 214.17 481.67 225 487 L320 400 L310 335 C301.67 329.17 275.83 312.17 260 300 C244.17 287.83 224.5 274.5 215 262 C205.5 249.5 201.17 237 203 225 C204.83 213 214.83 197.83 226 190 C237.17 182.17 252.67 175.5 270 178 C287.33 180.5 308.33 191.67 330 205 C351.67 218.33 376.67 240.5 400 258 C423.33 275.5 446.67 295 470 310 C493.33 325 515 338.67 540 348 C565 357.33 593.33 364.33 620 366 C646.67 367.67 678.67 361.83 700 358 C721.33 354.17 740 345.5 748 343 L830 330 L830 240Z" transform="translate(960 65) scale(0.06353)" fill="#ededed"/><path d="M690 276 C675 272.67 628.33 268.33 600 256 C571.67 243.67 545 220.17 520 202 C495 183.83 473.33 162.17 450 147 C426.67 131.83 405 120.17 380 111 C355 101.83 326.67 95.17 300 92 C273.33 88.83 246.67 88 220 92 C193.33 96 163.33 103 140 116 C116.67 129 94.17 149.33 80 170 C65.83 190.67 58 216.67 55 240 C52 263.33 54.5 285 62 310 C69.5 335 83.67 365.83 100 390 C116.33 414.17 139.17 438.83 160 455 C180.83 471.17 214.17 481.67 225 487 L320 400 L310 335 C301.67 329.17 275.83 312.17 260 300 C244.17 287.83 224.5 274.5 215 262 C205.5 249.5 201.17 237 203 225 C204.83 213 214.83 197.83 226 190 C237.17 182.17 252.67 175.5 270 178 C287.33 180.5 308.33 191.67 330 205 C351.67 218.33 376.67 240.5 400 258 C423.33 275.5 446.67 295 470 310 C493.33 325 515 338.67 540 348 C565 357.33 593.33 364.33 620 366 C646.67 367.67 678.67 361.83 700 358 C721.33 354.17 740 345.5 748 343 L830 330 L830 240Z" transform="translate(1090 65) scale(-0.06353 0.06353)" fill="#ededed"/><path d="M1003.2 82.6 C1003.47 81.07 1006.2 80 1008 78.8 C1009.8 77.6 1012 76.23 1014 75.4 C1016 74.57 1018.17 74.13 1020 73.8 C1021.83 73.47 1023.33 73.4 1025 73.4 C1026.67 73.4 1028.17 73.47 1030 73.8 C1031.83 74.13 1034 74.57 1036 75.4 C1038 76.23 1040.2 77.6 1042 78.8 C1043.8 80 1046.53 81.07 1046.8 82.6 C1047.07 84.13 1044.15 86.43 1043.6 88 C1043.05 89.57 1043.67 90.45 1043.5 92 C1043.33 93.55 1043.18 95.55 1042.6 97.3 C1042.02 99.05 1040.88 100.92 1040 102.5 C1039.12 104.08 1038 105.47 1037.3 106.8 C1036.6 108.13 1036.02 109.37 1035.8 110.5 C1035.58 111.63 1035.6 112.48 1036 113.6 C1036.4 114.72 1037.73 115.97 1038.2 117.2 C1038.67 118.43 1038.83 119.32 1038.8 121 C1038.77 122.68 1038.3 124.63 1038 127.3 C1037.7 129.97 1037.35 133.82 1037 137 C1036.65 140.18 1036.27 144.27 1035.9 146.4 C1035.53 148.53 1035.37 148.97 1034.8 149.8 C1034.23 150.63 1034.13 151.05 1032.5 151.4 C1030.87 151.75 1027.5 151.9 1025 151.9 C1022.5 151.9 1019.13 151.75 1017.5 151.4 C1015.87 151.05 1015.77 150.63 1015.2 149.8 C1014.63 148.97 1014.47 148.53 1014.1 146.4 C1013.73 144.27 1013.35 140.18 1013 137 C1012.65 133.82 1012.3 129.97 1012 127.3 C1011.7 124.63 1011.23 122.68 1011.2 121 C1011.17 119.32 1011.33 118.43 1011.8 117.2 C1012.27 115.97 1013.6 114.72 1014 113.6 C1014.4 112.48 1014.42 111.63 1014.2 110.5 C1013.98 109.37 1013.4 108.13 1012.7 106.8 C1012 105.47 1010.88 104.08 1010 102.5 C1009.12 100.92 1007.98 99.05 1007.4 97.3 C1006.82 95.55 1006.67 93.55 1006.5 92 C1006.33 90.45 1006.95 89.57 1006.4 88 C1005.85 86.43 1002.93 84.13 1003.2 82.6Z" fill="#ededed"/><g transform="translate(960 65) scale(0.06353)"><path d="M330 115 C340 119.17 370 128.83 390 140 C410 151.17 431.67 166.67 450 182 C468.33 197.33 484.17 216 500 232 C515.83 248 528.33 263.33 545 278 C561.67 292.67 580.83 312.67 600 320 C619.17 327.33 638.33 324.33 660 322 C681.67 319.67 706.67 311 730 306 C753.33 301 778.33 294.33 800 292 C821.67 289.67 850 292 860 292" fill="none" stroke="#cf6a7b" stroke-width="11" stroke-linecap="round"/><path d="M470 430 C560 470 660 440 750 392 L757 412 C680 470 580 510 470 500Z" fill="#ecb6b8"/><ellipse cx="355" cy="455" rx="137" ry="108" transform="rotate(8 355 455)" fill="#e9b5b6"/><path d="M222 430 C240 330 420 310 486 420 C420 370 290 370 222 430Z" fill="#f4cfd2"/></g><g transform="translate(1090 65) scale(-0.06353 0.06353)"><path d="M330 115 C340 119.17 370 128.83 390 140 C410 151.17 431.67 166.67 450 182 C468.33 197.33 484.17 216 500 232 C515.83 248 528.33 263.33 545 278 C561.67 292.67 580.83 312.67 600 320 C619.17 327.33 638.33 324.33 660 322 C681.67 319.67 706.67 311 730 306 C753.33 301 778.33 294.33 800 292 C821.67 289.67 850 292 860 292" fill="none" stroke="#cf6a7b" stroke-width="11" stroke-linecap="round"/><path d="M470 430 C560 470 660 440 750 392 L757 412 C680 470 580 510 470 500Z" fill="#ecb6b8"/><ellipse cx="355" cy="455" rx="137" ry="108" transform="rotate(8 355 455)" fill="#e9b5b6"/><path d="M222 430 C240 330 420 310 486 420 C420 370 290 370 222 430Z" fill="#f4cfd2"/></g><path d="M1013.5 83.4 C1016.5 83.7 1018.2 84.4 1019.6 85.6 C1023 86.6 1029 86.6 1030.4 85.6 C1031.8 84.4 1033.5 83.7 1036.5 83.4 L1036.6 84.6 C1035.6 85.2 1035.2 86 1035 87.4 C1034.2 94 1033.6 99 1033 104 C1031.8 110 1030 113 1029.1 116.4 C1028.6 119 1029 120.6 1029.8 121.6 L1033.4 122 C1034 122.3 1034 122.8 1033.9 123.4 L1031.9 146 C1031.6 149 1030.4 150.4 1028 150.5 L1022 150.5 C1019.6 150.4 1018.4 149 1018.1 146 L1017.1 123.4 C1017 122.8 1017 122.3 1017.6 122 L1021.4 121.7 C1022 120.6 1022.4 118.6 1022.2 116.4 C1020.5 108 1017.5 97 1014.8 87.4 C1014.6 86 1014.4 85.2 1013.4 84.6Z" fill="#c7566b"/>
<use href="#shbg" x="578.3" y="295.1"/><use href="#shbg" x="597.3" y="302"/><use href="#cup" x="365.5" y="287.8"/><use href="#cup" x="384.1" y="291.9"/><use href="#cup" x="790.9" y="338.3"/><use href="#cup" x="809.5" y="342.5"/><use href="#dot" x="365.5" y="287.8"/><use href="#dot" x="384.1" y="291.9"/><use href="#dot" x="790.9" y="338.3"/><use href="#dot" x="809.5" y="342.5"/><use href="#dot" x="251.1" y="303.7"/><use href="#dot" x="246.9" y="317.5"/><use href="#dot" x="228.1" y="322.6"/><use href="#dotL" x="271.6" y="324.2"/><use href="#dotL" x="906.7" y="335.5"/><use href="#dotL" x="927.5" y="351.5"/><use href="#dotL" x="298" y="499.3"/><use href="#dotL" x="336.6" y="492.3"/><use href="#dotL" x="322" y="515.3"/><g fill="none" stroke="#3b3637" stroke-width="1.15" stroke-linecap="round" stroke-linejoin="round"><path d="M293 300.2 H331.7 L325.5 297.4"/><path d="M331.7 303.6 H293.5 L298.9 307"/></g><g fill="none" stroke="#3b3637" stroke-width="1.15" stroke-linecap="round" stroke-linejoin="round"><path d="M834.8 340.9 H873.6 L867.4 338.1"/><path d="M873.6 344.3 H835.3 L840.7 347.7"/></g><line x1="183.3" y1="193.6" x2="230.07" y2="301.27" stroke="#3b3637" stroke-width="1.8"/><path d="M233.3 308.7 L224.86 302.45 L234.49 298.26Z" fill="#3b3637"/><line x1="599.3" y1="107.3" x2="599.3" y2="285" stroke="#3b3637" stroke-width="1.8"/><path d="M599.3 293.1 L594.05 284 L604.55 284Z" fill="#3b3637"/><line x1="1000.5" y1="186" x2="930.47" y2="328.73" stroke="#3b3637" stroke-width="1.8"/><path d="M926.9 336 L926.2 325.52 L935.62 330.14Z" fill="#3b3637"/><line x1="318.2" y1="349.1" x2="318.2" y2="476.6" stroke="#c8101e" stroke-width="3" stroke-linecap="round" stroke-dasharray="0 5.31"/><path d="M313.6 481.6 H323 L318.3 490.2Z" fill="#c8101e"/>
<rect x="235.4" y="129" width="92.4" height="27" rx="13.5" fill="#ededed"/>
<text x="249.9" y="149.6" font-size="21.2" fill="#231f20" textLength="68.1" lengthAdjust="spacingAndGlyphs">Testicle</text>
<rect x="628.5" y="173.8" width="80.3" height="26.5" rx="13.25" fill="#ededed"/>
<text x="648.2" y="193.7" font-size="21" fill="#231f20" textLength="43.3" lengthAdjust="spacingAndGlyphs">Liver</text>
<rect x="860" y="98.4" width="80.7" height="26.6" rx="13.3" fill="#ededed"/>
<text x="875.6" y="115.9" font-size="21" fill="#231f20" textLength="53" lengthAdjust="spacingAndGlyphs">Ovary</text>
<text x="198.5" y="353.6" font-size="19.4" font-weight="bold" fill="#231f20" textLength="96.6" lengthAdjust="spacingAndGlyphs">Free Testo</text>
<text x="333.1" y="341.3" font-size="18.4" fill="#231f20" textLength="180.4" lengthAdjust="spacingAndGlyphs">SHBG-Testo Complex</text>
<text x="568.9" y="344" font-size="18.6" font-weight="bold" fill="#231f20" textLength="48.1" lengthAdjust="spacingAndGlyphs">SHBG</text>
<text x="758.2" y="384.1" font-size="18.4" fill="#231f20" textLength="180.3" lengthAdjust="spacingAndGlyphs">SHBG-Testo Complex</text>
<text x="943.5" y="350.6" font-size="18.2" font-weight="bold" fill="#231f20" textLength="89.8" lengthAdjust="spacingAndGlyphs">Free Testo</text>
<text x="366.5" y="486.6" font-size="20" fill="#231f20" textLength="209.9" lengthAdjust="spacingAndGlyphs">Free Testo diffuses into</text>
<text x="366.5" y="512.1" font-size="20" fill="#231f20" textLength="178.6" lengthAdjust="spacingAndGlyphs">cells to exert effects</text>
<path d="M804.4 512.6 V483.4 H1285.7 V511.8" fill="none" stroke="#9a9a9a" stroke-width="1"/>
<rect x="946.8" y="469" width="195.9" height="28.5" rx="14.25" fill="#666666"/>
<text x="963.3" y="490" font-size="18.7" font-weight="bold" fill="#fff" textLength="163.9" lengthAdjust="spacingAndGlyphs">Total Testosterone</text>
<rect x="805.1" y="524.3" width="107.7" height="47.7" fill="#b2b2b2"/>
<rect x="914.4" y="524.3" width="179.3" height="47.7" fill="#b2b2b2"/>
<rect x="1095.2" y="524.3" width="190.5" height="47.7" fill="#b81c23"/>
<text x="819.3" y="542.4" font-size="16.2" font-weight="bold" fill="#fff" textLength="78.5" lengthAdjust="spacingAndGlyphs">Free Testo</text>
<text x="847.2" y="563.9" font-size="16.2" font-weight="bold" fill="#fff" textLength="22.8" lengthAdjust="spacingAndGlyphs">2%</text>
<text x="943.5" y="542.4" font-size="16.2" font-weight="bold" fill="#fff" textLength="121.6" lengthAdjust="spacingAndGlyphs">Albumin-Bound</text>
<text x="973.3" y="563.9" font-size="16.2" font-weight="bold" fill="#fff" textLength="62.4" lengthAdjust="spacingAndGlyphs">30~50%</text>
<text x="1145.3" y="542.4" font-size="16.2" font-weight="bold" fill="#fff" textLength="99.9" lengthAdjust="spacingAndGlyphs">SHBG-Bound</text>
<text x="1163.7" y="563.9" font-size="16.2" font-weight="bold" fill="#fff" textLength="63.1" lengthAdjust="spacingAndGlyphs">45~65%</text>
<path d="M804.4 578 V598.2 H1094.8 V578" fill="none" stroke="#9a9a9a" stroke-width="1"/>
<text x="865.3" y="620.9" font-size="17.4" fill="#231f20" textLength="169" lengthAdjust="spacingAndGlyphs">Testo in bioactive form</text>
<text x="1138.9" y="609.9" font-size="11.8" fill="#7d7d7d" textLength="148.7" lengthAdjust="spacingAndGlyphs">*The above percentages are</text>
<text x="1185.6" y="626.8" font-size="11.8" fill="#7d7d7d" textLength="104.4" lengthAdjust="spacingAndGlyphs">applicable to Males.</text>
</svg>
</body></html>
